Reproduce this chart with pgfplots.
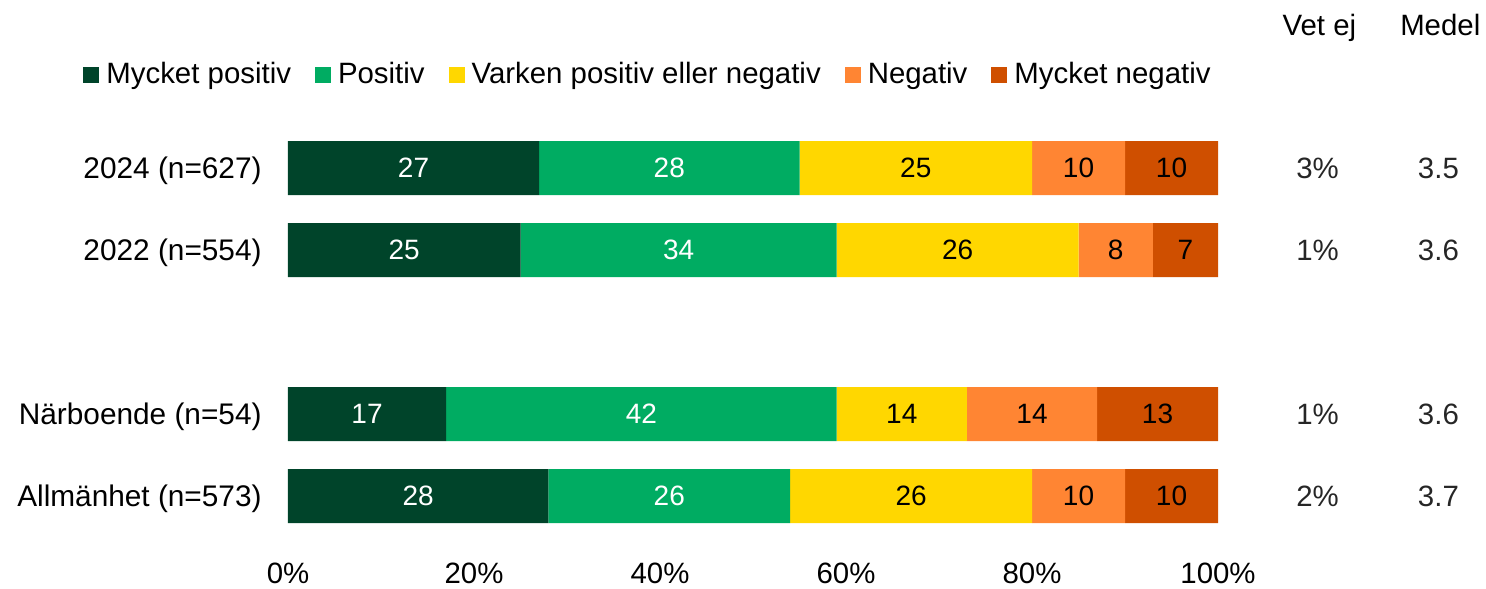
\documentclass[border=0pt]{standalone}
\usepackage{fontspec}
\setmainfont{Liberation Sans}
\usepackage{pgfplots}
\pgfplotsset{compat=1.18}
\definecolor{cA}{HTML}{00442A}
\definecolor{cB}{HTML}{00AC62}
\definecolor{cC}{HTML}{FFD700}
\definecolor{cD}{HTML}{FF8533}
\definecolor{cE}{HTML}{CF4F00}
\definecolor{txt}{HTML}{262626}
\begin{document}
\fontsize{14.7pt}{17pt}\selectfont
\begin{tikzpicture}
\path[use as bounding box] (-144pt,-25.5pt) rectangle (599pt,268.5pt);
\begin{axis}[
  at={(0pt,0pt)}, anchor=south west,
  scale only axis, width=465pt, height=205pt,
  xbar stacked, bar width=27pt,
  xmin=0, xmax=100, ymin=-0.5, ymax=4.5, y dir=reverse,
  axis line style={draw=none}, clip=false,
  ytick={0,1,3,4},
  yticklabels={2024 (n=627),2022 (n=554),Närboende (n=54),Allmänhet (n=573)},
  xtick={0,20,40,60,80,100},
  xticklabels={0\%,20\%,40\%,60\%,80\%,100\%},
  major tick length=0pt,
  tick style={draw=none},
  yticklabel style={anchor=base east, inner sep=0pt, xshift=-13pt, yshift=-0.358em, font=\fontsize{14.9pt}{17pt}\selectfont},
  xticklabel style={anchor=base, inner sep=0pt, yshift=-23.3pt, font=\fontsize{14.7pt}{17pt}\selectfont},
  visualization depends on=rawx\as\rawx,
  nodes near coords={\pgfmathprintnumber[assume math mode=true, fixed, precision=0]{\rawx}},
  every node near coord/.append style={anchor=center, inner sep=0pt, font=\fontsize{14pt}{17pt}\selectfont},
  legend columns=5,
  legend style={draw=none, fill=none, at={(0.386,1.127)}, anchor=center,
    font=\fontsize{14.7pt}{17pt}\selectfont,
    nodes={inner xsep=0pt},
    /tikz/every odd column/.style={column sep=3.5pt},
    /tikz/every even column/.style={column sep=12pt}},
  legend image code/.code={\fill[#1] (0pt,-4pt) rectangle (8pt,4pt);},
]
\addplot[fill=cA, draw=none, every node near coord/.append style={text=white}] coordinates {(27,0) (25,1) (17,3) (28,4)};
\addplot[fill=cB, draw=none, every node near coord/.append style={text=white}] coordinates {(28,0) (34,1) (42,3) (26,4)};
\addplot[fill=cC, draw=none, every node near coord/.append style={text=black}] coordinates {(25,0) (26,1) (14,3) (26,4)};
\addplot[fill=cD, draw=none, every node near coord/.append style={text=black}] coordinates {(10,0) (8,1) (14,3) (10,4)};
\addplot[fill=cE, draw=none, every node near coord/.append style={text=black}] coordinates {(10,0) (7,1) (13,3) (10,4)};
\legend{Mycket positiv,Positiv,Varken positiv eller negativ,Negativ,Mycket negativ}
\node[anchor=base, inner sep=0pt] at (axis cs:110.9,-1.61) {Vet ej};
\node[anchor=base, inner sep=0pt] at (axis cs:123.9,-1.61) {Medel};
\node[text=txt, inner sep=0pt] at (axis cs:110.7,0) {3\%};
\node[text=txt, inner sep=0pt] at (axis cs:110.7,1) {1\%};
\node[text=txt, inner sep=0pt] at (axis cs:110.7,3) {1\%};
\node[text=txt, inner sep=0pt] at (axis cs:110.7,4) {2\%};
\node[text=txt, inner sep=0pt] at (axis cs:123.7,0) {3.5};
\node[text=txt, inner sep=0pt] at (axis cs:123.7,1) {3.6};
\node[text=txt, inner sep=0pt] at (axis cs:123.7,3) {3.6};
\node[text=txt, inner sep=0pt] at (axis cs:123.7,4) {3.7};
\end{axis}
\end{tikzpicture}
\end{document}
